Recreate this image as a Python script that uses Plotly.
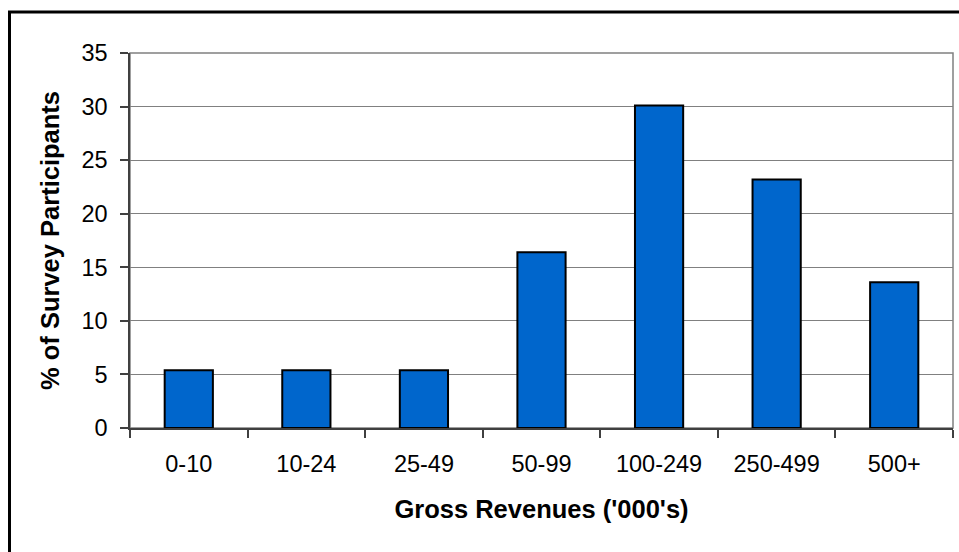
import plotly.graph_objects as go

categories = ["0-10", "10-24", "25-49", "50-99", "100-249", "250-499", "500+"]
participants_pct = [5.4, 5.4, 5.4, 16.4, 30.1, 23.2, 13.6]
y_ticks = [0, 5, 10, 15, 20, 25, 30, 35]

FONT = "Liberation Sans, Arial, sans-serif"

fig = go.Figure()
fig.add_trace(go.Bar(
    x=categories, y=participants_pct,
    marker=dict(color="#0066CC", line=dict(color="#000000", width=2)),
    width=0.41,
))

W, H = 959, 552
L, R, T, B = 130, 6, 53, 124
pw = W - L - R
ph = H - T - B

def px_to_paper_x(px):
    return (px - L) / pw

def px_to_paper_y(py):
    return (H - B - py) / ph

fig.update_layout(
    width=W, height=H,
    margin=dict(l=L, r=R, t=T, b=B),
    paper_bgcolor="white", plot_bgcolor="white",
    showlegend=False,
    font=dict(family=FONT, color="black", size=24),
    xaxis=dict(
        type="category",
        showgrid=False,
        showline=True, linecolor="#404040", linewidth=1.5,
        ticks="outside", tickson="boundaries", ticklen=8, tickcolor="#404040", tickwidth=1.5,
        tickfont=dict(size=23.5, family=FONT),
        ticklabelstandoff=14,
        title=dict(text="<b>Gross Revenues ('000's)</b>", font=dict(size=25.5, family=FONT), standoff=24),
        range=[-0.5, 6.5],
    ),
    yaxis=dict(
        range=[0, 35], tickvals=y_ticks,
        showgrid=True, gridcolor="#808080", gridwidth=1,
        showline=True, linecolor="#404040", linewidth=1.5,
        ticks="outside", ticklen=8, tickcolor="#404040", tickwidth=1.5,
        tickfont=dict(size=23.5, family=FONT),
        ticklabelstandoff=8,
        title=dict(text="<b>% of Survey Participants</b>", font=dict(size=25.5, family=FONT), standoff=14),
        zeroline=False,
    ),
    shapes=[
        dict(type="rect", xref="paper", yref="paper", x0=0, x1=1, y0=0, y1=1,
             line=dict(color="#808080", width=1.5), layer="below"),
        dict(type="rect", xref="paper", yref="paper",
             x0=px_to_paper_x(9.5), x1=px_to_paper_x(975),
             y0=px_to_paper_y(570), y1=px_to_paper_y(12),
             line=dict(color="#000000", width=3), layer="above"),
    ],
)

fig.write_html("out.html", config={"displayModeBar": False},
               post_script="document.body.style.margin='0px';")
